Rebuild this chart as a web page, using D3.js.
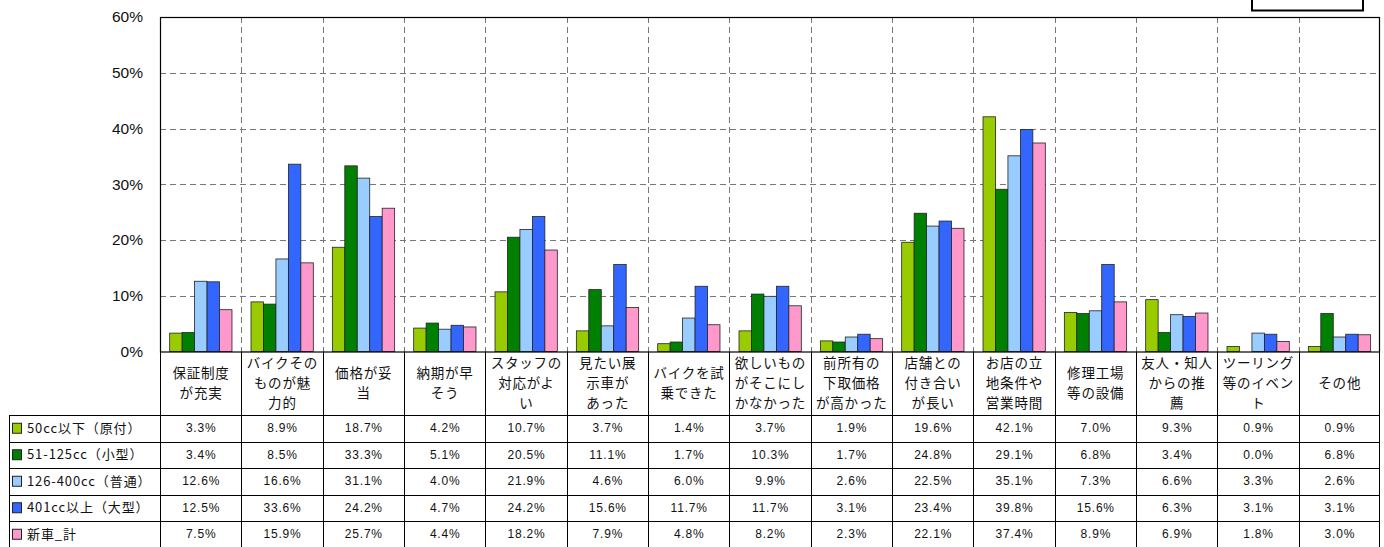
<!DOCTYPE html>
<html><head><meta charset="utf-8">
<script src="https://cdn.jsdelivr.net/npm/d3@7"></script>
<style>body{margin:0;background:#fff}</style>
</head><body><svg id="c" width="1384" height="547"></svg>
<script>
const categories = [
  "保証制度\nが充実","バイクその\nものが魅\n力的","価格が妥\n当","納期が早\nそう",
  "スタッフの\n対応がよ\nい","見たい展\n示車が\nあった","バイクを試\n乗できた",
  "欲しいもの\nがそこにし\nかなかった","前所有の\n下取価格\nが高かった","店舗との\n付き合い\nが長い",
  "お店の立\n地条件や\n営業時間","修理工場\n等の設備","友人・知人\nからの推\n薦","ツーリング\n等のイベン\nト","その他"
];
const seriesNames = ["50cc以下（原付）","51-125cc（小型）","126-400cc（普通）","401cc以上（大型）","新車_計"];
const s50    = [3.3,8.9,18.7,4.2,10.7,3.7,1.4,3.7,1.9,19.6,42.1,7.0,9.3,0.9,0.9];
const s125   = [3.4,8.5,33.3,5.1,20.5,11.1,1.7,10.3,1.7,24.8,29.1,6.8,3.4,0.0,6.8];
const s400   = [12.6,16.6,31.1,4.0,21.9,4.6,6.0,9.9,2.6,22.5,35.1,7.3,6.6,3.3,2.6];
const s401   = [12.5,33.6,24.2,4.7,24.2,15.6,11.7,11.7,3.1,23.4,39.8,15.6,6.3,3.1,3.1];
const sTotal = [7.5,15.9,25.7,4.4,18.2,7.9,4.8,8.2,2.3,22.1,37.4,8.9,6.9,1.8,3.0];
const yTicks = [0,10,20,30,40,50,60];
const colors = ["#99cc00","#008000","#99ccff","#3366ff","#ff99cc"];

const series = [s50,s125,s400,s401,sTotal];
const svg = d3.select("#c");
const L = 160, R = 1380, T = 17, B = 351.5;
const x = d3.scaleBand().domain(d3.range(categories.length)).range([L,R]).padding(0);
const bw = x.bandwidth();
const x1 = d3.scaleBand().domain(d3.range(series.length)).range([bw*0.119, bw*0.885]).padding(0);
const y = d3.scaleLinear().domain([0,60]).range([B,T]);

// grid
const g = svg.append("g");
g.selectAll("line.h").data(yTicks.filter(t=>t>0&&t<60)).join("line")
  .attr("x1",L).attr("x2",R).attr("y1",d=>Math.round(y(d))+0.5).attr("y2",d=>Math.round(y(d))+0.5)
  .attr("stroke","#777").attr("stroke-dasharray","6,4");
g.selectAll("line.v").data(d3.range(1,categories.length)).join("line")
  .attr("x1",d=>Math.round(x(d))+0.5).attr("x2",d=>Math.round(x(d))+0.5).attr("y1",T).attr("y2",B)
  .attr("stroke","#777").attr("stroke-dasharray","6,4");

// bars
const cg = svg.append("g").selectAll("g").data(categories).join("g")
  .attr("transform",(d,i)=>`translate(${x(i)},0)`);
cg.selectAll("rect").data((d,i)=>series.map((s,k)=>({k,v:s[i]}))).join("rect")
  .attr("x",d=>x1(d.k)).attr("width",x1.bandwidth())
  .attr("y",d=>y(d.v)).attr("height",d=>B-y(d.v))
  .attr("fill",d=>colors[d.k]).attr("stroke",d=>d.v>0?"#222":"none").attr("stroke-width",0.8);

// plot frame
svg.append("rect").attr("x",L+0.5).attr("y",T+0.5).attr("width",R-L-1).attr("height",B-T)
  .attr("fill","none").attr("stroke","#000").attr("stroke-width",1.2);

// y axis labels
const yAxis = d3.axisLeft(y).tickValues(yTicks).tickFormat(d=>d+"%").tickSize(0).tickPadding(17);
const ya = svg.append("g").attr("transform",`translate(${L},0)`).call(yAxis);
ya.select(".domain").remove();
ya.selectAll("text").attr("font-family","Liberation Sans, Arial, sans-serif").attr("font-size",15.5)
  .attr("fill","#111");

// table
const rowTop = 415, rowH = 26.5;
const tg = svg.append("g").attr("stroke","#000").attr("stroke-width",1);
d3.range(0,categories.length+1).forEach(i=>{
  const xx = i<categories.length ? Math.round(x(i))+0.5 : R-0.5;
  tg.append("line").attr("x1",xx).attr("x2",xx).attr("y1",B).attr("y2",547);
});
tg.append("line").attr("x1",9.5).attr("x2",9.5).attr("y1",rowTop).attr("y2",547);
d3.range(0,5).forEach(r=>{
  const yy = Math.round(rowTop + r*rowH)+0.5;
  tg.append("line").attr("x1",9).attr("x2",R).attr("y1",yy).attr("y2",yy);
});

// category labels
const font = "'Noto Sans CJK JP', sans-serif";
cg.each(function(d,i){
  const lines = d.split("\n");
  const cy = 383 - (lines.length-1)*10;
  const t = d3.select(this).append("text").attr("text-anchor","middle")
    .attr("font-family",font).attr("font-size",13.5).attr("fill","#111").attr("letter-spacing",0.8);
  lines.forEach((ln,j)=>t.append("tspan").attr("x",bw/2+0.4).attr("y",cy+j*20).attr("dy","0.35em").text(ln));
});

// values
series.forEach((s,k)=>{
  const cy = rowTop + k*rowH + rowH/2;
  svg.append("g").selectAll("text").data(s).join("text")
    .attr("x",(d,i)=>x(i)+bw/2+0.5).attr("y",cy).attr("dy","0.35em").attr("text-anchor","middle")
    .attr("font-family","Liberation Sans, Arial, sans-serif").attr("font-size",12).attr("fill","#111")
    .attr("letter-spacing",0.8)
    .text(d=>d.toFixed(1)+"%");
  svg.append("rect").attr("x",12.5).attr("y",cy-5).attr("width",9).attr("height",10)
    .attr("fill",colors[k]).attr("stroke","#222").attr("stroke-width",1);
  svg.append("text").attr("x",27).attr("y",cy).attr("dy","0.35em")
    .attr("font-family",font).attr("font-size",13).attr("fill","#111").attr("letter-spacing",0.9)
    .text(seriesNames[k]);
});

// empty box top right
svg.append("rect").attr("x",1252).attr("y",-4).attr("width",111).attr("height",14.5)
  .attr("fill","#fff").attr("stroke","#000").attr("stroke-width",2);
</script></body></html>
